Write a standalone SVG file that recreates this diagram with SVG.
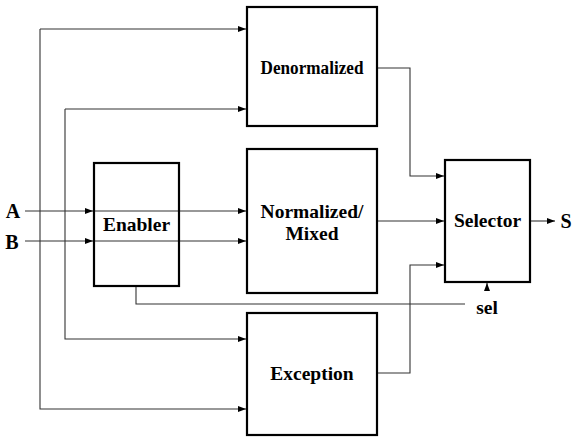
<svg xmlns="http://www.w3.org/2000/svg" width="574" height="438" viewBox="0 0 574 438">
<style>
.box{fill:#fff;stroke:#000;stroke-width:2.2}
.w{fill:none;stroke:#333;stroke-width:1.1}
.t{font-family:"Liberation Serif","Times New Roman",serif;font-weight:bold;font-size:19.5px;fill:#000;text-anchor:middle;dominant-baseline:central}
.io{font-size:20px}
</style>
<defs>
<marker id="ar" viewBox="0 0 8 6" refX="8" refY="3" markerWidth="8" markerHeight="6" markerUnits="userSpaceOnUse" orient="auto">
<path d="M0,0 L8,3 L0,6 Z" fill="#000"/>
</marker>
</defs>
<g id="connectors">
<path class="w" d="M40,29 H246" marker-end="url(#ar)"/>
<path class="w" d="M40,29 V409 H246" marker-end="url(#ar)"/>
<path class="w" d="M65,109 H246" marker-end="url(#ar)"/>
<path class="w" d="M65,109 V339 H246" marker-end="url(#ar)"/>
<path class="w" d="M25,211 H93" marker-end="url(#ar)"/>
<path class="w" d="M25,241 H93" marker-end="url(#ar)"/>
<path class="w" d="M94,211 H246" marker-end="url(#ar)"/>
<path class="w" d="M94,241 H246" marker-end="url(#ar)"/>
<path class="w" d="M136,286 V304 H465"/>
<path class="w" d="M487,289 V283" marker-end="url(#ar)"/>
<path class="w" d="M377,68 H410 V176 H444" marker-end="url(#ar)"/>
<path class="w" d="M377,221 H444" marker-end="url(#ar)"/>
<path class="w" d="M377,373 H410 V265 H444" marker-end="url(#ar)"/>
<path class="w" d="M530,221 H555" marker-end="url(#ar)"/>
</g>
<g id="denormalized">
<rect class="box" x="247" y="7" width="130" height="119"/>
<text class="t" x="312" y="68" style="font-size:18.5px" textLength="103" lengthAdjust="spacingAndGlyphs">Denormalized</text>
</g>
<g id="normalized">
<rect class="box" x="247" y="149" width="130" height="144"/>
<text class="t" x="312" y="211">Normalized/</text>
<text class="t" x="312" y="233">Mixed</text>
</g>
<g id="exception">
<rect class="box" x="247" y="313" width="130" height="122"/>
<text class="t" x="312" y="373">Exception</text>
</g>
<g id="enabler">
<rect class="box" x="94" y="163" width="85" height="123" style="fill:none"/>
<text class="t" x="136.5" y="224">Enabler</text>
</g>
<g id="selector">
<rect class="box" x="445" y="160" width="85" height="122"/>
<text class="t" x="487.5" y="220">Selector</text>
</g>
<g id="labels">
<text class="t io" x="13" y="211">A</text>
<text class="t io" x="12" y="242">B</text>
<text class="t" x="487" y="307">sel</text>
<text class="t io" x="566" y="221">S</text>
</g>
</svg>
